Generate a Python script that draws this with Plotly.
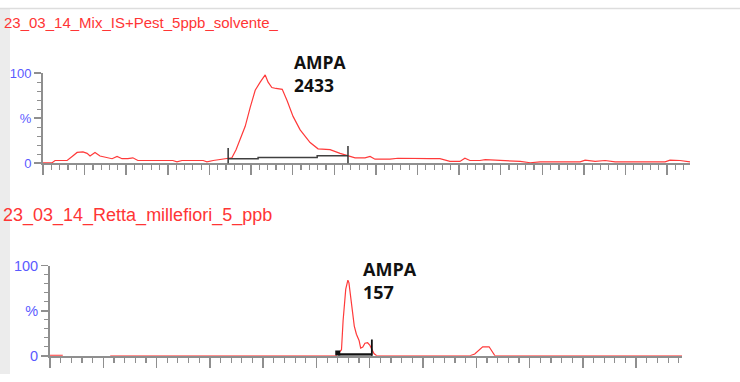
import plotly.graph_objects as go

# ---------------- data ----------------
title_top = "23_03_14_Mix_IS+Pest_5ppb_solvente_"
title_bot = "23_03_14_Retta_millefiori_5_ppb"
y_tick_vals = [0, 50, 100]
y_tick_text = ["0", "%", "100"]

# top chromatogram (time units, % intensity)
top_t = [0.00, 0.22, 0.29, 0.58, 0.70, 0.82, 0.96, 1.06, 1.13, 1.25, 1.37, 1.54, 1.66, 1.78,
         1.90, 2.04, 2.16, 2.28, 2.57, 2.81, 3.12, 3.22, 3.34, 3.85, 3.94, 4.09, 4.30, 4.45,
         4.54, 4.64, 4.74, 4.86, 4.98, 5.10, 5.22, 5.34, 5.41, 5.50, 5.60, 5.75, 5.87, 6.01,
         6.18, 6.42, 6.61, 6.90, 7.14, 7.31, 7.50, 7.74, 7.86, 7.98, 8.34, 8.53, 8.82, 9.30,
         9.54, 9.78, 10.02, 10.14, 10.26, 10.50, 10.63, 10.99, 11.23, 11.47, 11.71, 11.95,
         12.91, 13.03, 13.27, 13.51, 13.75, 14.95, 15.07, 15.31, 15.55]
top_i = [0.5, 0.5, 3, 3, 7.5, 12, 12.5, 11, 8, 12, 8, 6, 5, 7.5,
         5, 5, 6, 3, 3, 3.5, 3, 1.5, 3, 3, 1.5, 3, 4.5, 5,
         6, 15, 27, 41, 62, 81, 90, 98, 90, 84, 83, 82, 69, 52,
         37, 23, 16, 15, 11, 8.5, 6, 6, 7.5, 4.5, 4.5, 5.5, 5, 5,
         5, 2, 2, 5.5, 3, 3, 4, 3, 3, 2, 0.5, 1.5,
         1.5, 3.5, 2, 3, 1.5, 1.5, 3.5, 3, 1.5]
top_base_t = [4.45, 5.17, 6.59, 7.33]
top_base_i = [5, 6.4, 8.2, 8.2]
top_range = [0, 15.55]

# bottom chromatogram
bot_t = [0.00, 0.24, None, 1.13, 5.37, 5.47, 5.50, 5.55, 5.59, 5.61, 5.64, 5.67, 5.71, 5.75,
         5.80, 5.83, 5.87, 5.91, 5.96, 6.00, 6.04, 6.08, 6.13, 7.88, 7.97, 8.07, 8.12, 8.24,
         8.29, 8.35, 11.86]
bot_i = [0.5, 0.5, None, 0, 0, 6.7, 39, 74, 84, 81, 67, 49, 33, 24,
         17, 8.5, 9.6, 14, 14.5, 12, 6.7, 2.5, 0, 0, 2, 8, 10, 10,
         6, 0, 0]
bot_base_t = [5.40, 6.04]
bot_base_i = [1.5, 1.5]
bot_range = [0, 11.86]

peak_name = "AMPA"
top_area = "2433"
bot_area = "157"

# ---------------- styling ----------------
W, H = 740, 382
RED = "#ff3a3a"
AX = "#8f8f8f"
BLUE = "#5a5aff"


def px(v):
    return v / W


def py(v):
    return 1 - v / H


fig = go.Figure()
fig.add_trace(go.Scatter(x=top_t, y=top_i, mode="lines", line=dict(color=RED, width=1.2),
                         xaxis="x", yaxis="y", showlegend=False, hoverinfo="skip"))
fig.add_trace(go.Scatter(x=top_base_t, y=top_base_i, mode="lines", line=dict(color="#404040", width=1.5, shape="hv"),
                         xaxis="x", yaxis="y", showlegend=False, hoverinfo="skip"))
fig.add_trace(go.Scatter(x=[top_base_t[0], top_base_t[-1]], y=[top_base_i[0] + 1, top_base_i[-1]], mode="markers",
                         marker=dict(symbol="line-ns", size=14, line=dict(color="#333333", width=1.5)),
                         xaxis="x", yaxis="y", showlegend=False, hoverinfo="skip"))

fig.add_trace(go.Scatter(x=bot_t, y=bot_i, mode="lines", line=dict(color=RED, width=1.2),
                         connectgaps=False, xaxis="x2", yaxis="y2", showlegend=False, hoverinfo="skip"))
fig.add_trace(go.Scatter(x=bot_base_t, y=bot_base_i, mode="lines", line=dict(color="#111111", width=2.5),
                         xaxis="x2", yaxis="y2", showlegend=False, hoverinfo="skip"))
fig.add_trace(go.Scatter(x=[bot_base_t[0]], y=[3], mode="markers",
                         marker=dict(symbol="square", size=5, color="#111111"),
                         xaxis="x2", yaxis="y2", showlegend=False, hoverinfo="skip"))
fig.add_trace(go.Scatter(x=[bot_base_t[1]], y=[8], mode="markers",
                         marker=dict(symbol="line-ns", size=13, line=dict(color="#111111", width=1.8)),
                         xaxis="x2", yaxis="y2", showlegend=False, hoverinfo="skip"))


def xax(domain, rng):
    return dict(domain=domain, range=rng, showgrid=False, zeroline=False, showline=True,
                linecolor=AX, linewidth=2, ticks="outside", tick0=0, dtick=1, ticklen=10,
                tickwidth=1.5, tickcolor=AX, showticklabels=False, layer="below traces",
                minor=dict(dtick=0.2, ticklen=5, tickwidth=1.2, tickcolor=AX, ticks="outside"),
                fixedrange=True)


def yax(domain, fs, anchor):
    return dict(domain=domain, range=[0, 100], showgrid=False, zeroline=False, showline=True,
                linecolor=AX, linewidth=2, ticks="outside", tickvals=y_tick_vals, ticktext=y_tick_text,
                ticklen=7, tickwidth=1.5, tickcolor=AX, layer="below traces", anchor=anchor,
                tickfont=dict(family="Liberation Sans, Arial", size=fs, color=BLUE),
                minor=dict(dtick=10, ticklen=4, tickwidth=1.2, tickcolor=AX, ticks="outside"),
                fixedrange=True)


fig.update_layout(
    width=W, height=H,
    margin=dict(l=0, r=0, t=0, b=0),
    paper_bgcolor="white", plot_bgcolor="white",
    hovermode=False,
    xaxis=dict(**xax([px(43), px(690)], top_range), anchor="y"),
    yaxis=yax([1 - 162 / H, 1 - 68 / H], 13, "x"),
    xaxis2=dict(**xax([px(50), px(682)], bot_range), anchor="y2"),
    yaxis2=yax([1 - 363 / H, 1 - 269 / H], 14.5, "x2"),
    shapes=[
        dict(type="rect", xref="paper", yref="paper", x0=0, x1=px(10), y0=0, y1=1,
             fillcolor="#ececec", line=dict(width=0), layer="below"),
        dict(type="line", xref="paper", yref="paper", x0=0, x1=1, y0=py(0.5), y1=py(0.5),
             line=dict(color="#dddddd", width=1.5), layer="below"),
    ],
    annotations=[
        dict(text=title_top, xref="paper", yref="paper", x=px(2), y=py(15), xanchor="left", yanchor="middle",
             showarrow=False, font=dict(family="Liberation Sans, Arial", size=15, color="#ff3535")),
        dict(text=title_bot, xref="paper", yref="paper", x=px(1), y=py(217), xanchor="left", yanchor="middle",
             showarrow=False, font=dict(family="Liberation Sans, Arial", size=18, color="#ff3535")),
        dict(text=peak_name + "<br>" + top_area, xref="paper", yref="paper", x=px(292), y=py(68),
             xanchor="left", yanchor="middle", align="left", showarrow=False,
             font=dict(family="Open Sans", size=17.5, color="#111111", weight="bold")),
        dict(text=peak_name + "<br>" + bot_area, xref="paper", yref="paper", x=px(361), y=py(284),
             xanchor="left", yanchor="middle", align="left", showarrow=False,
             font=dict(family="Open Sans", size=18, color="#111111", weight="bold")),
    ],
)

fig.write_html("out.html", config={"displayModeBar": False, "staticPlot": True},
               post_script="document.body.style.margin='0';document.body.style.padding='0';")
